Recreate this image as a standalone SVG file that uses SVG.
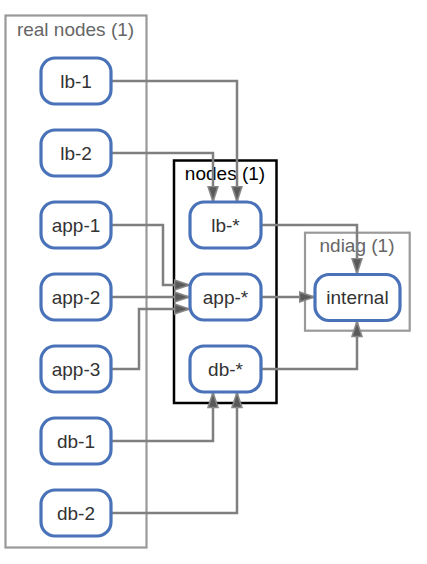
<svg xmlns="http://www.w3.org/2000/svg" width="427" height="564" viewBox="0 0 427 564">
  <style>
    .cluster-gray { fill: none; stroke: #999999; stroke-width: 2.2; }
    .cluster-black { fill: none; stroke: #000000; stroke-width: 2.5; }
    .ctitle-gray { font-family: "Liberation Sans", Arial, sans-serif; font-size: 19px; fill: #666666; text-anchor: middle; }
    .ctitle-black { font-family: "Liberation Sans", Arial, sans-serif; font-size: 19px; fill: #000000; text-anchor: middle; }
    .node rect { fill: #ffffff; stroke: #4a72b8; stroke-width: 3.2; }
    .node text { font-family: "Liberation Sans", Arial, sans-serif; font-size: 19px; fill: #333333; text-anchor: middle; }
    .edge { fill: none; stroke: #7f7f7f; stroke-width: 2.5; }
  </style>
  <defs>
    <marker id="arrow" viewBox="0 0 17 12" refX="16.5" refY="6" markerWidth="17" markerHeight="12" markerUnits="userSpaceOnUse" orient="auto">
      <path d="M1,1 L16,6 L1,11 z" fill="#5a5a5a" stroke="#888888" stroke-width="1.6"/>
    </marker>
  </defs>

  <rect width="427" height="564" fill="#ffffff"/>

  <g id="cluster-real-nodes">
    <rect class="cluster-gray" x="5.5" y="15.5" width="141" height="532"/>
    <text class="ctitle-gray" x="75.5" y="36">real nodes (1)</text>
  </g>
  <g id="cluster-nodes">
    <rect class="cluster-black" x="174" y="160.5" width="102.5" height="242.5"/>
    <text class="ctitle-black" x="225" y="180">nodes (1)</text>
  </g>
  <g id="cluster-ndiag">
    <rect class="cluster-gray" x="305" y="232.7" width="104.7" height="98"/>
    <text class="ctitle-gray" x="357" y="252.4">ndiag (1)</text>
  </g>

  <g id="connectors">
    <path class="edge" marker-end="url(#arrow)" d="M112,81 H237 V202"/>
    <path class="edge" marker-end="url(#arrow)" d="M112,153 H213 V202"/>
    <path class="edge" marker-end="url(#arrow)" d="M112,225 H163 V285 H190"/>
    <path class="edge" marker-end="url(#arrow)" d="M112,297 H190"/>
    <path class="edge" marker-end="url(#arrow)" d="M112,369 H139 V309 H190"/>
    <path class="edge" marker-end="url(#arrow)" d="M112,441 H213 V392"/>
    <path class="edge" marker-end="url(#arrow)" d="M112,513 H237 V392"/>
    <path class="edge" marker-end="url(#arrow)" d="M262,225 H357 V274"/>
    <path class="edge" marker-end="url(#arrow)" d="M262,297 H315"/>
    <path class="edge" marker-end="url(#arrow)" d="M262,369 H357 V321"/>
  </g>

  <g id="node-lb-1" class="node">
    <rect x="41" y="58" width="70" height="46" rx="14"/>
    <text x="76" y="87.5">lb-1</text>
  </g>
  <g id="node-lb-2" class="node">
    <rect x="41" y="130" width="70" height="46" rx="14"/>
    <text x="76" y="159.5">lb-2</text>
  </g>
  <g id="node-app-1" class="node">
    <rect x="41" y="202" width="70" height="46" rx="14"/>
    <text x="76" y="231.5">app-1</text>
  </g>
  <g id="node-app-2" class="node">
    <rect x="41" y="274" width="70" height="46" rx="14"/>
    <text x="76" y="303.5">app-2</text>
  </g>
  <g id="node-app-3" class="node">
    <rect x="41" y="346" width="70" height="46" rx="14"/>
    <text x="76" y="375.5">app-3</text>
  </g>
  <g id="node-db-1" class="node">
    <rect x="41" y="418" width="70" height="46" rx="14"/>
    <text x="76" y="447.5">db-1</text>
  </g>
  <g id="node-db-2" class="node">
    <rect x="41" y="490" width="70" height="46" rx="14"/>
    <text x="76" y="519.5">db-2</text>
  </g>
  <g id="node-lb-star" class="node">
    <rect x="190" y="202" width="71" height="46" rx="14"/>
    <text x="225.5" y="231.5">lb-*</text>
  </g>
  <g id="node-app-star" class="node">
    <rect x="190" y="274" width="71" height="46" rx="14"/>
    <text x="225.5" y="303.5">app-*</text>
  </g>
  <g id="node-db-star" class="node">
    <rect x="190" y="346" width="71" height="46" rx="14"/>
    <text x="225.5" y="375.5">db-*</text>
  </g>
  <g id="node-internal" class="node">
    <rect x="315" y="274.5" width="85" height="46" rx="14"/>
    <text x="357.5" y="304">internal</text>
  </g>
</svg>
